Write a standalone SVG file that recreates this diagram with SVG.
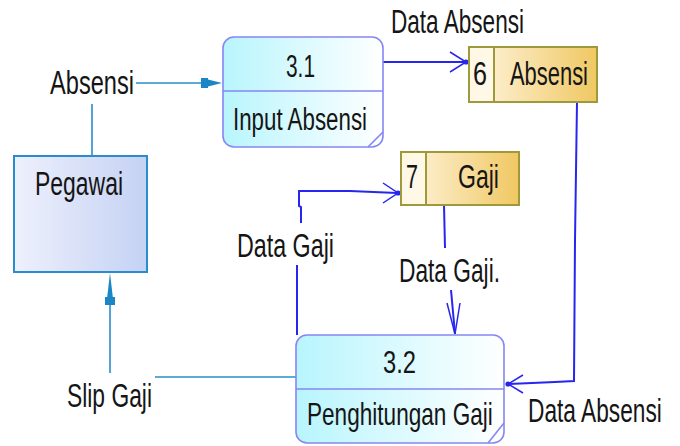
<svg xmlns="http://www.w3.org/2000/svg" width="680" height="446" viewBox="0 0 680 446">
  <defs>
    <linearGradient id="procFill" x1="0" y1="0" x2="1" y2="0">
      <stop offset="0" stop-color="#b8f5fd"/>
      <stop offset="1" stop-color="#ffffff"/>
    </linearGradient>
    <linearGradient id="storeFill" x1="0" y1="0" x2="1" y2="0">
      <stop offset="0" stop-color="#fff6e2"/>
      <stop offset="1" stop-color="#f0c862"/>
    </linearGradient>
    <linearGradient id="entityFill" x1="0" y1="0" x2="1" y2="0">
      <stop offset="0" stop-color="#eef0fd"/>
      <stop offset="1" stop-color="#c4d2f3"/>
    </linearGradient>
  </defs>
  <style>
    text { font-family: "Liberation Sans", Arial, sans-serif; fill: #151515; }
    .lbl { font-size: 34px; }
    .ptxt { font-size: 31px; }
    .proc { fill: url(#procFill); stroke: #8686f4; stroke-width: 1.6; }
    .pline { fill: none; stroke: #8686f4; stroke-width: 1.6; }
    .store { fill: url(#storeFill); stroke: #9e9a3c; stroke-width: 2; }
    .storeNum { fill: #fff8e6; stroke: #9e9a3c; stroke-width: 2; }
    .entity { fill: url(#entityFill); stroke: #2a8ccc; stroke-width: 2; }
    .flow { fill: none; stroke: #2626ee; stroke-width: 2; }
    .head { fill: none; stroke: #2626ee; stroke-width: 1.5; }
    .dot { fill: #2626ee; }
    .eflow { fill: none; stroke: #2a8ccc; stroke-width: 1.6; }
    .earrow { fill: #1a86c6; }
  </style>

  <!-- connectors -->
  <g id="connectors">
    <!-- Absensi: Pegawai -> 3.1 -->
    <path class="eflow" d="M92,156 V104"/>
    <path class="eflow" d="M136,83 H204"/>
    <polygon class="earrow" points="201,78 208,78 208,79.5 222,83 208,86.5 208,88 201,88"/>

    <!-- Slip Gaji: 3.2 -> Pegawai -->
    <path class="eflow" d="M296,377 H155"/>
    <path class="eflow" d="M110,373 V300"/>
    <polygon class="earrow" points="110,273 112.8,297 115,297 115,305 105,305 105,297 107.2,297"/>

    <!-- Data Absensi: 3.1 -> 6 -->
    <path class="flow" d="M383,62 H466"/>
    <path class="head" d="M450,52 L466,62 L450,72"/>
    <circle class="dot" cx="466" cy="62" r="2.6"/>

    <!-- Data Absensi: 6 -> 3.2 -->
    <path class="flow" d="M577,102 L575,240 L574,381 L555,382 L509,384"/>
    <path class="head" d="M523,375 L508,384 L523,393"/>
    <circle class="dot" cx="508" cy="384" r="2.6"/>

    <!-- Data Gaji: 3.2 -> 7 -->
    <path class="flow" d="M297,335 V265"/>
    <path class="flow" d="M301,223 V207 L299,206 V191 H350 L397,193"/>
    <path class="head" d="M383,183 L398,193 L383,203"/>
    <circle class="dot" cx="398" cy="193" r="2.6"/>

    <!-- Data Gaji.: 7 -> 3.2 -->
    <path class="flow" d="M444,205 L445,248"/>
    <path class="flow" d="M451,290 L455,334"/>
    <path class="head" d="M447,303 L455,334 L460,303"/>
  </g>

  <!-- external entity -->
  <g id="pegawai">
    <rect class="entity" x="14" y="156" width="133" height="116"/>
    <text class="lbl" x="35" y="195" textLength="88" lengthAdjust="spacingAndGlyphs">Pegawai</text>
  </g>

  <!-- process 3.1 -->
  <g id="proc-3-1">
    <rect class="proc" x="223" y="37" width="160" height="110" rx="11" ry="11"/>
    <path class="pline" d="M223,91 H383 M368,147 L383,132"/>
    <text class="ptxt" x="286" y="77" textLength="29" lengthAdjust="spacingAndGlyphs">3.1</text>
    <text class="ptxt" x="233" y="130" textLength="134" lengthAdjust="spacingAndGlyphs">Input Absensi</text>
  </g>

  <!-- process 3.2 -->
  <g id="proc-3-2">
    <rect class="proc" x="296" y="335" width="208" height="108" rx="11" ry="11"/>
    <path class="pline" d="M296,389 H504 M488,443 L504,423"/>
    <text class="ptxt" x="383" y="373" textLength="33" lengthAdjust="spacingAndGlyphs">3.2</text>
    <!-- condensed with a scale so its box stays inside the process shape -->
    <text class="ptxt" transform="translate(307,425) scale(0.729,1)" x="0" y="0">Penghitungan Gaji</text>
  </g>

  <!-- data store 6 -->
  <g id="store-6">
    <rect class="store" x="469" y="47" width="128" height="55"/>
    <rect class="storeNum" x="469" y="47" width="25" height="55"/>
    <text class="lbl" x="473" y="85" textLength="14" lengthAdjust="spacingAndGlyphs">6</text>
    <text class="lbl" x="510" y="85" textLength="78" lengthAdjust="spacingAndGlyphs">Absensi</text>
  </g>

  <!-- data store 7 -->
  <g id="store-7">
    <rect class="store" x="401" y="152" width="118" height="53"/>
    <rect class="storeNum" x="401" y="152" width="25" height="53"/>
    <text class="lbl" x="406" y="188" textLength="12" lengthAdjust="spacingAndGlyphs">7</text>
    <text class="lbl" x="458" y="188" textLength="41" lengthAdjust="spacingAndGlyphs">Gaji</text>
  </g>

  <!-- flow labels -->
  <g id="labels">
    <text class="lbl" x="50" y="94" textLength="84" lengthAdjust="spacingAndGlyphs">Absensi</text>
    <text class="lbl" x="391" y="33" textLength="133" lengthAdjust="spacingAndGlyphs">Data Absensi</text>
    <text class="lbl" x="237" y="257" textLength="97" lengthAdjust="spacingAndGlyphs">Data Gaji</text>
    <text class="lbl" x="399" y="282" textLength="101" lengthAdjust="spacingAndGlyphs">Data Gaji.</text>
    <text class="lbl" x="67" y="407" textLength="85" lengthAdjust="spacingAndGlyphs">Slip Gaji</text>
    <!-- condensed with a scale so its box stays inside the canvas -->
    <text class="lbl" transform="translate(528,422) scale(0.668,1)" x="0" y="0">Data Absensi</text>
  </g>
</svg>
